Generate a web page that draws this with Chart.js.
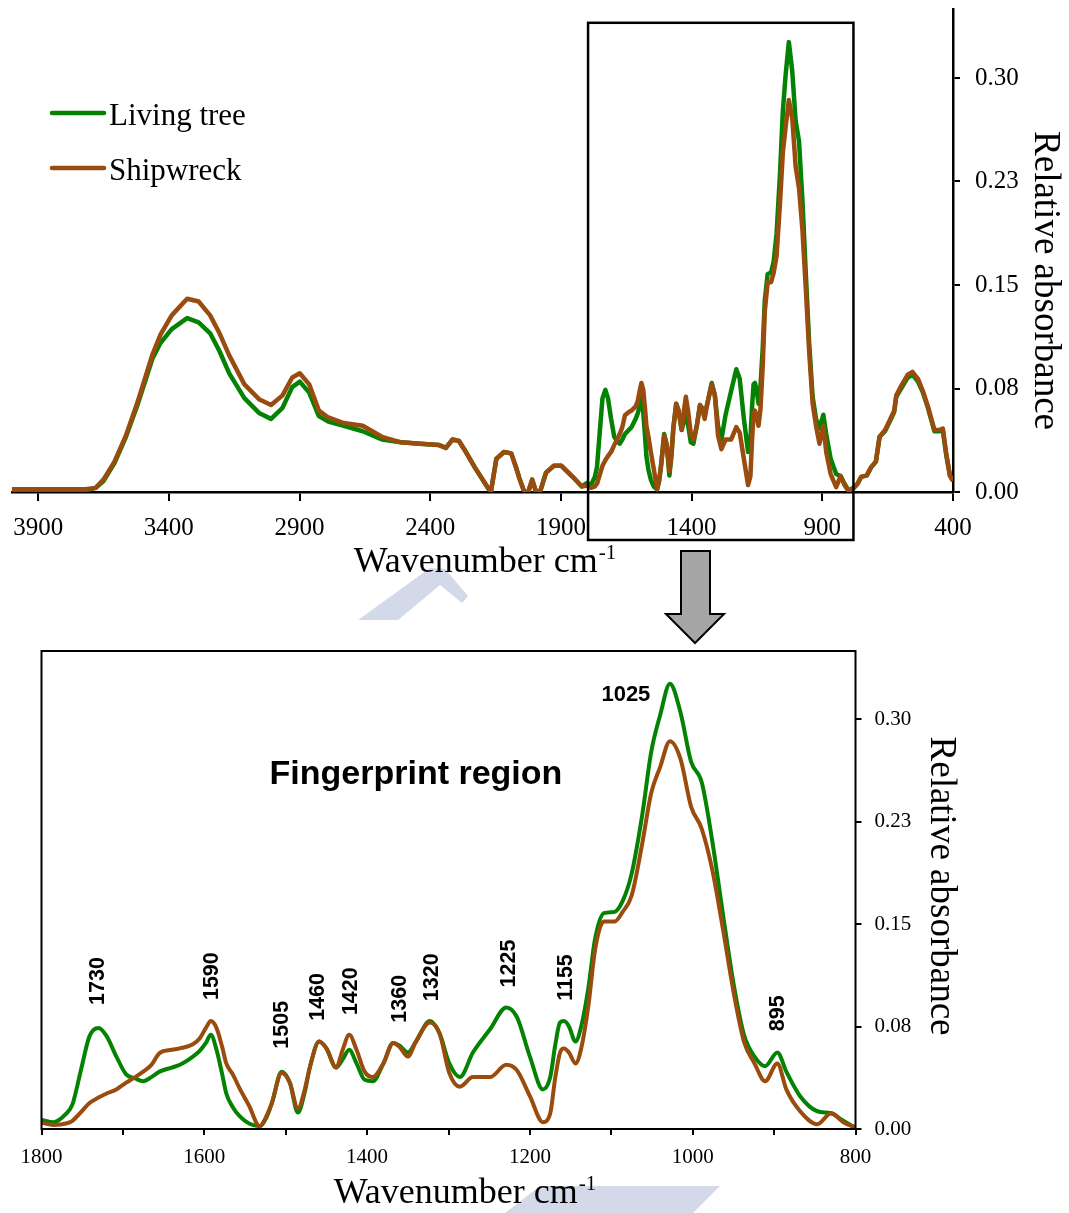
<!DOCTYPE html>
<html>
<head>
<meta charset="utf-8">
<title>FTIR spectra – living tree vs shipwreck wood</title>
<script src="https://cdn.jsdelivr.net/npm/chart.js@4.4.1/dist/chart.umd.min.js"></script>
<style>
  html, body { margin: 0; padding: 0; background: #fff; }
  #page { position: relative; width: 1069px; height: 1213px; overflow: hidden; }
  #deco { position: absolute; left: 0; top: 0; }
  #topWrap { position: absolute; left: 0; top: 0; width: 1069px; height: 600px; }
  #botWrap { position: absolute; left: 0; top: 600px; width: 1069px; height: 613px; }
</style>
</head>
<body>
<div id="page">
  <svg id="deco" width="1069" height="1213">
    <polygon points="358,620 430,568 445,569 468,596 462,603 440,585 398,620" fill="#d3d9e9"/>
    <polygon points="505,1213 540,1186 720,1186 693,1213" fill="#d3d9e9"/>
    <polygon points="681,551 710,551 710,614 724,614 695,643 666,614 681,614"
             fill="#a6a6a6" stroke="#000" stroke-width="2" stroke-linejoin="miter"/>
  </svg>
  <div id="topWrap"><canvas id="fullChart"></canvas></div>
  <div id="botWrap"><canvas id="fpChart"></canvas></div>
</div>

<script>
// ---- Spectra (relative absorbance) --------------------------------------

// High-wavenumber part, 4000 → 1820 cm-1
const wnHigh = [4000, 3900, 3800, 3720, 3680, 3650, 3608, 3564, 3520, 3462, 3432, 3389, 3330, 3286,
  3242, 3206, 3169, 3111, 3053, 3009, 2965, 2928, 2899, 2863, 2826, 2790, 2731, 2658, 2585, 2512,
  2439, 2366, 2340, 2315, 2290, 2270, 2230, 2176, 2168, 2147, 2118, 2090, 2072, 2059, 2040, 2025,
  2010, 1995, 1980, 1957, 1927, 1898, 1855, 1820];
const livingHigh = [0.001, 0.001, 0.001, 0.001, 0.003, 0.008, 0.021, 0.040, 0.063, 0.097, 0.108, 0.118, 0.126, 0.123,
  0.115, 0.102, 0.086, 0.068, 0.057, 0.053, 0.061, 0.076, 0.080, 0.072, 0.055, 0.051, 0.048, 0.044, 0.038, 0.036,
  0.035, 0.034, 0.032, 0.038, 0.037, 0.031, 0.018, 0.002, 0.000, 0.024, 0.029, 0.028, 0.018, 0.010, 0.000, 0.000,
  0.009, 0.000, 0.000, 0.014, 0.019, 0.019, 0.011, 0.004];
const shipHigh = [0.002, 0.002, 0.002, 0.002, 0.003, 0.009, 0.022, 0.041, 0.065, 0.100, 0.114, 0.128, 0.140, 0.138,
  0.128, 0.115, 0.099, 0.078, 0.067, 0.063, 0.070, 0.083, 0.086, 0.078, 0.059, 0.054, 0.050, 0.048, 0.040, 0.036,
  0.035, 0.034, 0.032, 0.038, 0.037, 0.031, 0.018, 0.002, 0.000, 0.024, 0.029, 0.028, 0.018, 0.010, 0.000, 0.000,
  0.009, 0.000, 0.000, 0.014, 0.019, 0.019, 0.011, 0.004];

// Fingerprint region, 1800 → 800 cm-1
const wnFp = [1800, 1785, 1770, 1762, 1752, 1741, 1730, 1720, 1708, 1696,
  1685, 1675, 1665, 1655, 1640, 1630, 1614, 1606, 1598, 1592,
  1585, 1578, 1573, 1565, 1556, 1545, 1532, 1524, 1517, 1505,
  1495, 1485, 1477, 1470, 1459, 1450, 1438, 1430, 1422, 1413,
  1403, 1393, 1380, 1368, 1360, 1350, 1340, 1323, 1311, 1299,
  1286, 1270, 1249, 1229, 1216, 1200, 1184, 1175, 1169, 1163,
  1158, 1152, 1144, 1137, 1128, 1120, 1109, 1096, 1086, 1075,
  1062, 1051, 1040, 1028, 1015, 1002, 989, 976, 963, 950,
  937, 924, 911, 896, 885, 868, 847, 830, 815, 800];
const livingFp = [0.0066, 0.005, 0.011, 0.018, 0.042, 0.068, 0.074, 0.068, 0.053, 0.040,
  0.037, 0.035, 0.038, 0.042, 0.045, 0.047, 0.053, 0.057, 0.063, 0.069,
  0.058, 0.040, 0.026, 0.016, 0.009, 0.004, 0.002, 0.008, 0.019, 0.042,
  0.034, 0.012, 0.026, 0.046, 0.064, 0.059, 0.045, 0.051, 0.058, 0.048,
  0.036, 0.035, 0.048, 0.063, 0.061, 0.056, 0.064, 0.079, 0.070, 0.048,
  0.038, 0.056, 0.073, 0.089, 0.082, 0.053, 0.029, 0.038, 0.061, 0.078,
  0.079, 0.075, 0.064, 0.075, 0.104, 0.139, 0.158, 0.159, 0.167, 0.187,
  0.230, 0.276, 0.303, 0.326, 0.305, 0.269, 0.254, 0.211, 0.158, 0.107,
  0.069, 0.053, 0.046, 0.056, 0.042, 0.024, 0.013, 0.0115, 0.006, 0.001];
const shipFp = [0.0046, 0.003, 0.004, 0.006, 0.012, 0.019, 0.023, 0.026, 0.029, 0.034,
  0.038, 0.042, 0.047, 0.0556, 0.058, 0.059, 0.062, 0.066, 0.074, 0.079,
  0.074, 0.060, 0.048, 0.040, 0.029, 0.017, 0.002, 0.009, 0.019, 0.041,
  0.034, 0.015, 0.028, 0.046, 0.064, 0.059, 0.045, 0.058, 0.069, 0.058,
  0.042, 0.038, 0.048, 0.063, 0.060, 0.053, 0.064, 0.078, 0.070, 0.041,
  0.031, 0.038, 0.038, 0.047, 0.043, 0.024, 0.005, 0.0115, 0.037, 0.056,
  0.059, 0.056, 0.048, 0.059, 0.091, 0.131, 0.152, 0.152, 0.159, 0.171,
  0.209, 0.246, 0.265, 0.284, 0.271, 0.236, 0.220, 0.190, 0.147, 0.101,
  0.064, 0.048, 0.035, 0.048, 0.029, 0.013, 0.0035, 0.0115, 0.005, 0.001];

// Low-wavenumber part, 780 → 400 cm-1
const wnLow = [780, 765, 751, 730, 713, 695, 681, 660, 642, 625, 617, 595, 573, 555, 534, 515,
  496, 480, 471, 450, 439, 426, 412, 400];
const livingLow = [0.003, 0.006, 0.011, 0.012, 0.018, 0.022, 0.040, 0.044, 0.051, 0.058, 0.069, 0.076,
  0.083, 0.085, 0.080, 0.072, 0.061, 0.050, 0.044, 0.044, 0.045, 0.027, 0.012, 0.008];
const shipLow = [0.003, 0.006, 0.011, 0.012, 0.018, 0.022, 0.040, 0.045, 0.052, 0.059, 0.070, 0.078,
  0.085, 0.087, 0.082, 0.073, 0.062, 0.051, 0.045, 0.045, 0.046, 0.028, 0.012, 0.008];

// Axis ticks and labels
const fullXTicks = [3900, 3400, 2900, 2400, 1900, 1400, 900, 400];
const fpXTicks = [1800, 1700, 1600, 1500, 1400, 1300, 1200, 1100, 1000, 900, 800];
const fpXLabels = ['1800', '', '1600', '', '1400', '', '1200', '', '1000', '', '800'];
const yTickValues = [0, 0.075, 0.15, 0.225, 0.30];
const yTickLabels = ['0.00', '0.08', '0.15', '0.23', '0.30'];

// Band assignments marked in the fingerprint panel
const bandLabels = [1730, 1590, 1505, 1460, 1420, 1360, 1320, 1225, 1155, 895];
const mainBand = 1025;
const fpRange = [1800, 800];

const seriesNames = ['Living tree', 'Shipwreck'];
const GREEN = '#048204';
const BROWN = '#9a4b0e';
const SERIF = '"Liberation Serif", "Times New Roman", serif';
const SANS = '"Liberation Sans", Arial, sans-serif';

// ---- helpers -------------------------------------------------------------
const toPoints = (xs, ys) => xs.map((x, i) => ({ x, y: ys[i] }));

function valueAt(xs, ys, w) {
  for (let i = 0; i < xs.length - 1; i++) {
    if (xs[i] >= w && w >= xs[i + 1]) {
      const t = (xs[i] - w) / (xs[i] - xs[i + 1]);
      return ys[i] + t * (ys[i + 1] - ys[i]);
    }
  }
  return 0;
}

function drawWavenumberTitle(ctx, cx, baseline) {
  const main = 'Wavenumber cm', sup = '-1';
  ctx.font = '36px ' + SERIF;
  const w1 = ctx.measureText(main).width;
  ctx.font = '21px ' + SERIF;
  const w2 = ctx.measureText(sup).width;
  const x0 = cx - (w1 + w2) / 2;
  ctx.fillStyle = '#000';
  ctx.textAlign = 'left';
  ctx.textBaseline = 'alphabetic';
  ctx.font = '36px ' + SERIF;
  ctx.fillText(main, x0, baseline);
  ctx.font = '21px ' + SERIF;
  ctx.fillText(sup, x0 + w1 + 1, baseline - 13);
}

function drawAbsorbanceTitle(ctx, x, cy) {
  ctx.save();
  ctx.translate(x, cy);
  ctx.rotate(Math.PI / 2);
  ctx.font = '37px ' + SERIF;
  ctx.fillStyle = '#000';
  ctx.textAlign = 'center';
  ctx.textBaseline = 'alphabetic';
  ctx.fillText('Relative absorbance', 0, 0);
  ctx.restore();
}

function fixedSize(prop, size) {
  return (s) => {
    s[prop] = size;
    s.paddingTop = 0; s.paddingBottom = 0; s.paddingLeft = 0; s.paddingRight = 0;
  };
}

const tickGrid = (len) => ({
  display: true, drawOnChartArea: false, drawTicks: true,
  tickLength: len, color: '#000', lineWidth: 2
});

// ---- full spectrum -------------------------------------------------------
const wnAll = [...wnHigh, ...wnFp, ...wnLow];
const livingAll = [...livingHigh, ...livingFp, ...livingLow];
const shipAll = [...shipHigh, ...shipFp, ...shipLow];

const fullDecor = {
  id: 'fullDecor',
  afterDraw(chart) {
    const { ctx, chartArea, scales: { x, y } } = chart;
    ctx.save();
    // frame marking the fingerprint range
    const l = x.getPixelForValue(fpRange[0]) + 1;
    const r = x.getPixelForValue(fpRange[1]) + 5;
    const t = y.getPixelForValue(0.34);
    const b = chartArea.bottom + 48;
    ctx.lineWidth = 2.5;
    ctx.strokeStyle = '#000';
    ctx.strokeRect(l, t, r - l, b - t);

    // legend
    chart.data.datasets.forEach((ds, i) => {
      const ly = 113 + i * 55;
      ctx.beginPath();
      ctx.lineCap = 'round';
      ctx.lineWidth = 4.5;
      ctx.strokeStyle = ds.borderColor;
      ctx.moveTo(52, ly);
      ctx.lineTo(104, ly);
      ctx.stroke();
      ctx.font = '31px ' + SERIF;
      ctx.fillStyle = '#000';
      ctx.textAlign = 'left';
      ctx.textBaseline = 'alphabetic';
      ctx.fillText(ds.label, 109, ly + 12);
    });

    drawWavenumberTitle(ctx, (chartArea.left + chartArea.right) / 2 + 2, chartArea.bottom + 80);
    drawAbsorbanceTitle(ctx, chartArea.right + 82, (chartArea.top + chartArea.bottom) / 2 + 30);
    ctx.restore();
  }
};

new Chart(document.getElementById('fullChart'), {
  type: 'line',
  data: {
    datasets: [
      { label: seriesNames[0], data: toPoints(wnAll, livingAll), borderColor: GREEN,
        borderWidth: 4.5, borderJoinStyle: 'round', pointRadius: 0, tension: 0, order: 1 },
      { label: seriesNames[1], data: toPoints(wnAll, shipAll), borderColor: BROWN,
        borderWidth: 4.5, borderJoinStyle: 'round', pointRadius: 0, tension: 0, order: 0 }
    ]
  },
  options: {
    responsive: true, maintainAspectRatio: false, animation: false, devicePixelRatio: 1,
    layout: { padding: { left: 12, top: 9, right: 0, bottom: 0 } },
    plugins: { legend: { display: false }, tooltip: { enabled: false } },
    scales: {
      x: {
        type: 'linear', position: 'bottom', min: 400, max: 4000, reverse: true,
        afterBuildTicks: (s) => { s.ticks = fullXTicks.map(v => ({ value: v })); },
        afterFit: fixedSize('height', 108),
        ticks: { autoSkip: false, maxRotation: 0, color: '#000', padding: 12,
                 font: { family: SERIF, size: 25 }, callback: (v) => String(v) },
        grid: tickGrid(9),
        border: { display: true, color: '#000', width: 2.5 }
      },
      y: {
        type: 'linear', position: 'right', min: 0, max: 0.35,
        afterBuildTicks: (s) => { s.ticks = yTickValues.map(v => ({ value: v })); },
        afterFit: fixedSize('width', 116),
        ticks: { autoSkip: false, color: '#000', padding: 15,
                 font: { family: SERIF, size: 25 }, callback: (v, i) => yTickLabels[i] },
        grid: tickGrid(7),
        border: { display: true, color: '#000', width: 2.5 }
      }
    }
  },
  plugins: [fullDecor]
});

// ---- fingerprint region ----------------------------------------------------
const fpDecor = {
  id: 'fpDecor',
  afterDraw(chart) {
    const { ctx, chartArea, scales: { x, y } } = chart;
    ctx.save();
    // plot frame
    ctx.lineWidth = 2;
    ctx.strokeStyle = '#000';
    ctx.strokeRect(chartArea.left, chartArea.top, chartArea.right - chartArea.left, chartArea.bottom - chartArea.top);

    // band labels, written upward above the higher of the two spectra
    ctx.fillStyle = '#000';
    ctx.font = 'bold 21.5px ' + SANS;
    bandLabels.forEach((w) => {
      const v = Math.max(valueAt(wnFp, livingFp, w), valueAt(wnFp, shipFp, w));
      const px = x.getPixelForValue(w);
      const py = y.getPixelForValue(v) - 23;
      ctx.save();
      ctx.translate(px, py);
      ctx.rotate(-Math.PI / 2);
      ctx.textAlign = 'left';
      ctx.textBaseline = 'middle';
      ctx.fillText(String(w), 0, 0);
      ctx.restore();
    });

    // main band, written beside the maximum
    const vMain = Math.max(valueAt(wnFp, livingFp, mainBand), valueAt(wnFp, shipFp, mainBand));
    ctx.font = 'bold 22px ' + SANS;
    ctx.textAlign = 'right';
    ctx.textBaseline = 'alphabetic';
    ctx.fillText(String(mainBand), x.getPixelForValue(mainBand) - 22, y.getPixelForValue(vMain) + 11);

    // panel caption
    ctx.font = 'bold 34px ' + SANS;
    ctx.textAlign = 'center';
    ctx.fillText('Fingerprint region', x.getPixelForValue(1340), y.getPixelForValue(0.2526));

    drawWavenumberTitle(ctx, (chartArea.left + chartArea.right) / 2 + 16, chartArea.bottom + 74);
    drawAbsorbanceTitle(ctx, chartArea.right + 75.5, (chartArea.top + chartArea.bottom) / 2 - 4);
    ctx.restore();
  }
};

new Chart(document.getElementById('fpChart'), {
  type: 'line',
  data: {
    datasets: [
      { label: seriesNames[0], data: toPoints(wnFp, livingFp), borderColor: GREEN,
        borderWidth: 4, borderJoinStyle: 'round', pointRadius: 0, cubicInterpolationMode: 'monotone', order: 1 },
      { label: seriesNames[1], data: toPoints(wnFp, shipFp), borderColor: BROWN,
        borderWidth: 4, borderJoinStyle: 'round', pointRadius: 0, cubicInterpolationMode: 'monotone', order: 0 }
    ]
  },
  options: {
    responsive: true, maintainAspectRatio: false, animation: false, devicePixelRatio: 1,
    layout: { padding: { left: 41.5, top: 51, right: 0, bottom: 0 } },
    plugins: { legend: { display: false }, tooltip: { enabled: false } },
    scales: {
      x: {
        type: 'linear', position: 'bottom', min: fpRange[1], max: fpRange[0], reverse: true,
        afterBuildTicks: (s) => { s.ticks = fpXTicks.map(v => ({ value: v })); },
        afterFit: fixedSize('height', 84),
        ticks: { autoSkip: false, maxRotation: 0, color: '#000', padding: 10,
                 font: { family: SERIF, size: 21 }, callback: (v, i) => fpXLabels[i] },
        grid: tickGrid(6),
        border: { display: false }
      },
      y: {
        type: 'linear', position: 'right', min: 0, max: 0.35,
        afterBuildTicks: (s) => { s.ticks = yTickValues.map(v => ({ value: v })); },
        afterFit: fixedSize('width', 213.5),
        ticks: { autoSkip: false, color: '#000', padding: 13,
                 font: { family: SERIF, size: 21 }, callback: (v, i) => yTickLabels[i] },
        grid: tickGrid(6),
        border: { display: false }
      }
    }
  },
  plugins: [fpDecor]
});
</script>
</body>
</html>
